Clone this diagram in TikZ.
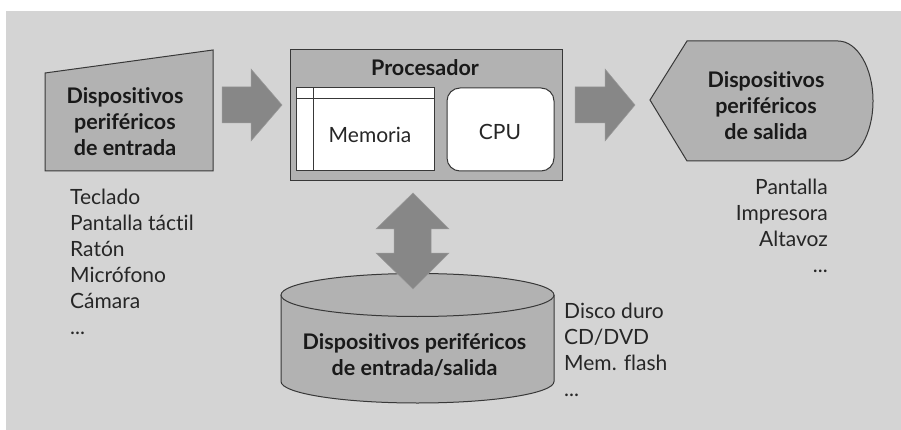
\documentclass[tikz,border=0pt]{standalone}
\usepackage{fontspec}
\setmainfont{Lato}[Ligatures=NoCommon]
\definecolor{bgc}{gray}{0.83}
\definecolor{shapec}{gray}{0.70}
\definecolor{arrowc}{gray}{0.53}
\definecolor{linec}{gray}{0.22}
\tikzset{
 lbl/.style={font=\fontsize{21.5}{26}\selectfont\bfseries,align=center,text=black!90,inner sep=0pt},
 plain/.style={font=\fontsize{21}{26}\selectfont,text=black!85,inner sep=0pt},
 shp/.style={draw=linec,fill=shapec,line width=1pt},
 wht/.style={draw=linec,fill=white,line width=1pt},
 arr/.style={fill=arrowc,draw=arrowc!85!white,line width=0.5pt}
}
\begin{document}
\begin{tikzpicture}[x=1pt,y=-1pt]
\useasboundingbox (0,0) rectangle (901,430);
\fill[white] (0,0) rectangle (901,430);
\fill[bgc] (6,11) rectangle (901,430);
% entrada
\draw[shp] (45,73) -- (213,50) -- (213,171) -- (45,171) -- cycle;
\node[lbl] (entrada) at (125,122) {Dispositivos\\periféricos\\de entrada};
\node[plain,align=left,anchor=north west] (lista1) at (70,189) {Teclado\\Pantalla táctil\\Ratón\\Micrófono\\Cámara\\...};
% procesador
\draw[shp] (290,50) rectangle (562,181);
\node[lbl] (proc) at (425,68) {Procesador};
\draw[wht] (296,88) rectangle (434,171);
\draw[line width=1pt,draw=linec] (296,99) -- (434,99);
\draw[line width=1pt,draw=linec] (313,88) -- (313,171);
\node[plain] (mem) at (370,135) {Memoria};
\draw[wht,rounded corners=13pt] (447,88) rectangle (554,171);
\node[plain] (cpu) at (500,132) {CPU};
% salida
\draw[shp] (650,100) -- (687,41) -- (838,41) arc[start angle=90,end angle=-90,x radius=35pt,y radius=60pt] -- (687,161) -- cycle;
\node[lbl] (salida) at (766,106) {Dispositivos\\periféricos\\de salida};
\node[plain,align=right,anchor=north east] (lista2) at (828,179) {Pantalla\\Impresora\\Altavoz\\...};
% disco
\fill[shapec] (281,295) -- (281,381.5) arc[start angle=180,end angle=360,x radius=136.5pt,y radius=21.5pt] -- (554,295) -- cycle;
\draw[line width=1pt,draw=linec] (281,295) -- (281,381.5) arc[start angle=180,end angle=360,x radius=136.5pt,y radius=21.5pt] -- (554,295);
\draw[shp] (417.5,295) ellipse[x radius=136.5,y radius=21.5];
\node[lbl] (disco) at (414.5,355.5) {Dispositivos periféricos\\de entrada/salida};
\node[plain,align=left,anchor=north west] (lista3) at (564,303) {Disco duro\\CD/DVD\\Mem. flash\\...};
% flechas
\draw[arr] (222,87) -- (251,87) -- (251,69) -- (282,105) -- (251,141) -- (251,123) -- (222,123) -- cycle;
\draw[arr] (575,87) -- (605,87) -- (605,69) -- (635,105) -- (605,141) -- (605,123) -- (575,123) -- cycle;
\draw[arr] (413,193) -- (449,229) -- (431,229) -- (431,253) -- (449,253) -- (413,289) -- (376,253) -- (394,253) -- (394,229) -- (376,229) -- cycle;
\end{tikzpicture}
\end{document}
